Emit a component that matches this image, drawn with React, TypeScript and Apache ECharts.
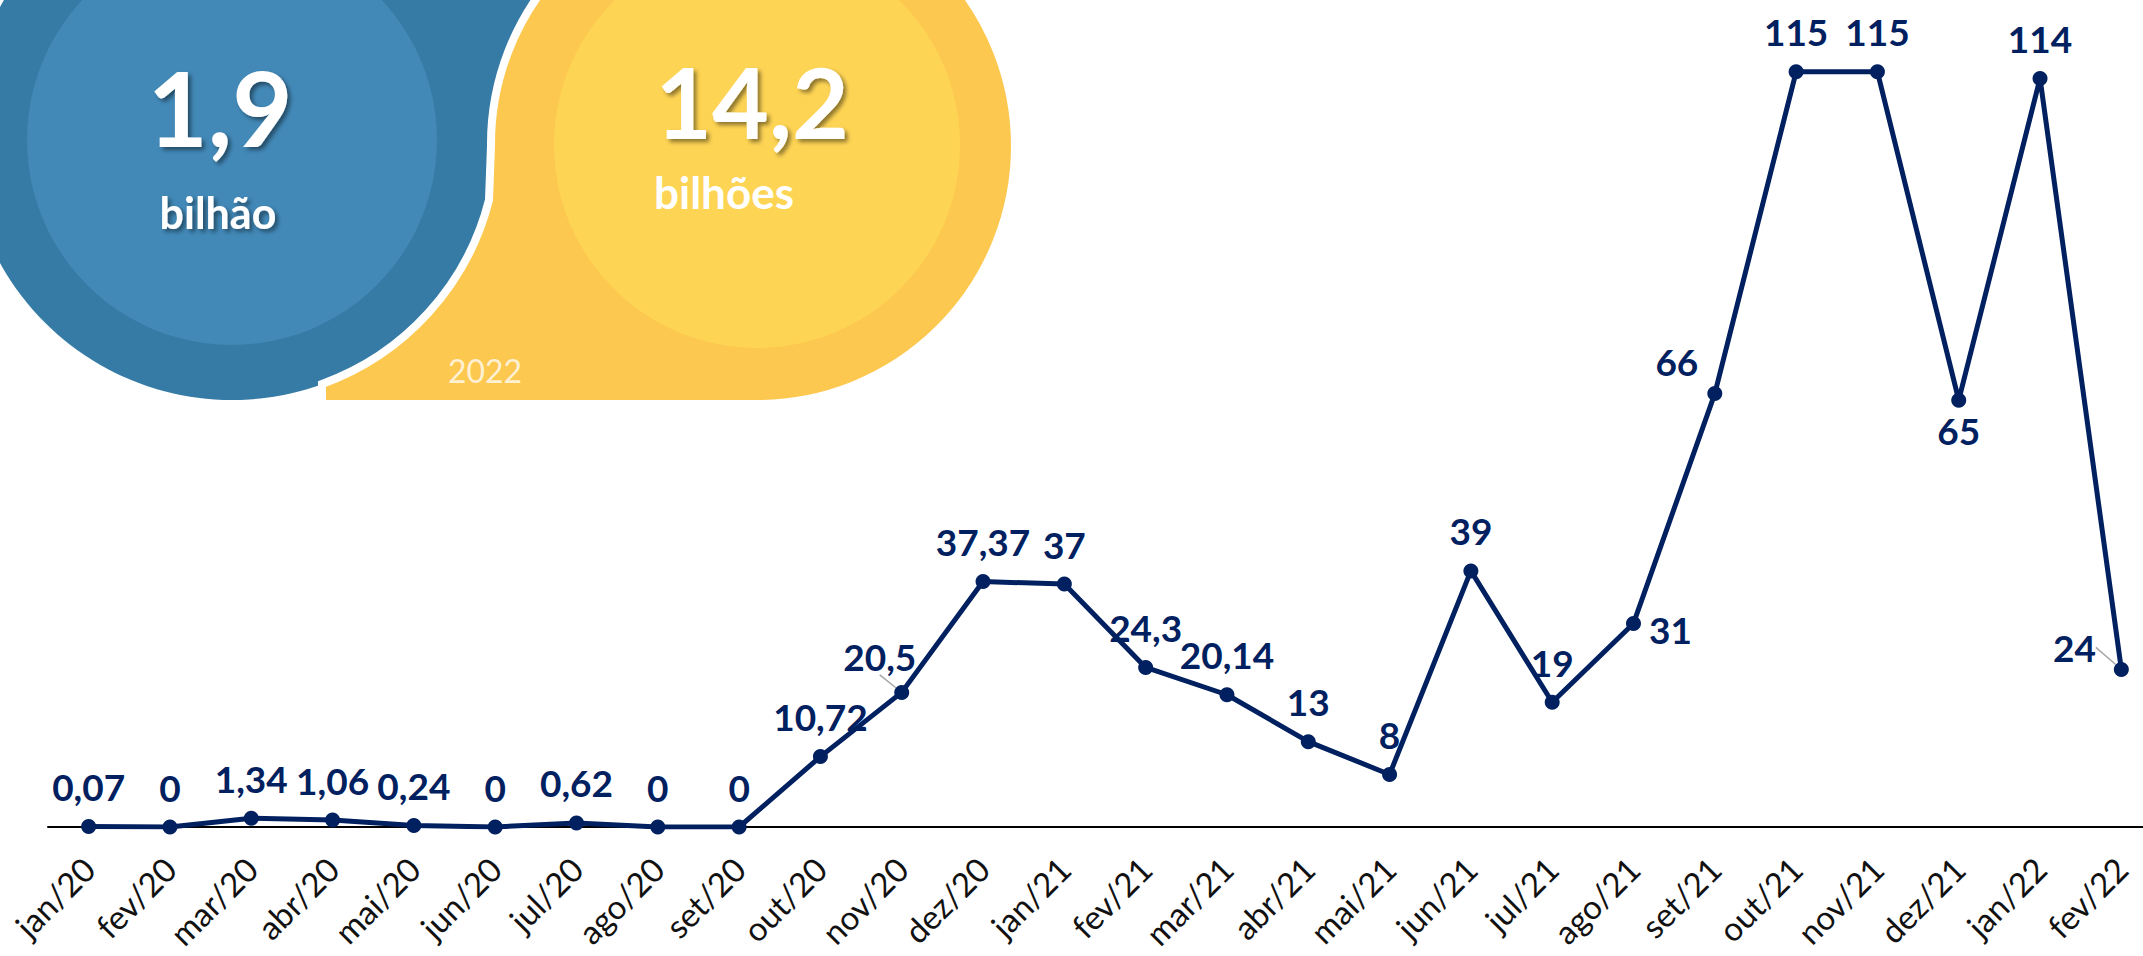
import React, { useEffect, useRef } from "react";
import * as echarts from "echarts";

const categories = [
  "jan/20", "fev/20", "mar/20", "abr/20", "mai/20", "jun/20", "jul/20", "ago/20", "set/20",
  "out/20", "nov/20", "dez/20", "jan/21", "fev/21", "mar/21", "abr/21", "mai/21", "jun/21",
  "jul/21", "ago/21", "set/21", "out/21", "nov/21", "dez/21", "jan/22", "fev/22",
];
const values = [
  0.07, 0, 1.34, 1.06, 0.24, 0, 0.62, 0, 0, 10.72, 20.5, 37.37, 37, 24.3, 20.14, 13, 8, 39,
  19, 31, 66, 115, 115, 65, 114, 24,
];
const bigNumbers = ["1,9", "14,2"];
const bigUnits = ["bilhão", "bilhões"];
const yearLabel = "2022";

const NAVY = "#002060";
const FONT = "Lato, 'Open Sans', 'Liberation Sans', sans-serif";

const YELLOW_SHAPE =
  "M 322 404 L 757 404 A 258 258 0 0 0 1015 146 A 258 258 0 0 0 757 -112 L 747 -112 " +
  "A 256 256 0 0 0 491 146 L 489 200 A 265 265 0 0 1 322 384 Z";

let registered = false;
function ensureShapes() {
  if (registered) return;
  echarts.graphic.registerShape("yellowBlob", echarts.graphic.extendPath(YELLOW_SHAPE, {}));
  registered = true;
}

export default function App() {
  const ref = useRef<HTMLDivElement>(null);
  useEffect(() => {
    if (!ref.current) return;
    ensureShapes();
    const chart = echarts.init(ref.current, null, { renderer: "svg" });
    const shadow = {
      textShadowColor: "rgba(0,0,0,0.45)",
      textShadowBlur: 4,
      textShadowOffsetX: 3,
      textShadowOffsetY: 3,
    };
    const data = values.map((v, i) => {
      const item: any = { value: v };
      if (i === 19) item.label = { position: "right", distance: 8 };
      if (i === 20) item.label = { position: "left", distance: 9 };
      if (i === 23) item.label = { position: "bottom", distance: 4 };
      if (i === 25) item.label = { position: "left", distance: 8 };
      if (i === 10 || i === 25)
        item.labelLine = { show: true, lineStyle: { color: "#A6A6A6", width: 1.5 } };
      return item;
    });
    chart.setOption({
      animation: false,
      backgroundColor: "#ffffff",
      graphic: [
        { type: "polygon", shape: { points: [[300, -10], [600, -10], [560, 200], [300, 200]] }, style: { fill: "#357BA6" }, z: 1 },
        { type: "circle", shape: { cx: 232, cy: 135, r: 265 }, style: { fill: "#357BA6" }, z: 2 },
        { type: "circle", shape: { cx: 232, cy: 140, r: 205 }, style: { fill: "#4289B8" }, z: 3 },
        { type: "yellowBlob", x: 0, y: 0, style: { fill: "#FCC84F", stroke: "#ffffff", lineWidth: 8 }, z: 4 },
        { type: "circle", shape: { cx: 757, cy: 145, r: 203 }, style: { fill: "#FED454" }, z: 5 },
        { type: "text", z: 10, style: { text: bigNumbers[0], x: 220, y: 106, textAlign: "center", textVerticalAlign: "middle", font: `bold 104px ${FONT}`, fill: "#ffffff", ...shadow } },
        { type: "text", z: 10, style: { text: bigUnits[0], x: 218, y: 212, textAlign: "center", textVerticalAlign: "middle", font: `bold 43px ${FONT}`, fill: "#ffffff", ...shadow } },
        { type: "text", z: 10, style: { text: bigNumbers[1], x: 752, y: 101, textAlign: "center", textVerticalAlign: "middle", font: `bold 98px ${FONT}`, fill: "#ffffff", ...shadow } },
        { type: "text", z: 10, style: { text: bigUnits[1], x: 654, y: 192, textAlign: "left", textVerticalAlign: "middle", font: `bold 44px ${FONT}`, fill: "#ffffff" } },
        { type: "text", z: 10, style: { text: yearLabel, x: 485, y: 370, textAlign: "center", textVerticalAlign: "middle", font: `32px ${FONT}`, fill: "rgba(255,255,255,0.75)" } },
      ],
      grid: { left: 48, top: 39, width: 2114, height: 788, containLabel: false, outerBoundsMode: "none" },
      xAxis: {
        type: "category",
        data: categories,
        boundaryGap: true,
        axisLine: { show: true, lineStyle: { color: "#000000", width: 2 } },
        axisTick: { show: false },
        axisLabel: {
          interval: 0,
          rotate: 45,
          margin: 36,
          fontSize: 33,
          color: "#111111",
          fontFamily: FONT,
        },
        splitLine: { show: false },
      },
      yAxis: { type: "value", min: 0, max: 120, show: false, splitLine: { show: false } },
      series: [
        {
          type: "line",
          data,
          symbol: "circle",
          symbolSize: 15,
          lineStyle: { color: NAVY, width: 5 },
          itemStyle: { color: NAVY },
          label: {
            show: true,
            position: "top",
            distance: 14,
            color: NAVY,
            fontFamily: FONT,
            fontWeight: "bold",
            fontSize: 37,
            formatter: (p: any) => String(p.value).replace(".", ","),
          },
          labelLayout: (p: any) => {
            if (p.dataIndex === 10) return { dx: -22, dy: 4 };
            if (p.dataIndex === 19) return { dx: 0, dy: 6 };
            if (p.dataIndex === 20) return { dx: 0, dy: -32 };
            if (p.dataIndex === 25) return { dx: -10, dy: -22 };
            return { dx: 0, dy: 0 };
          },
        },
      ],
    });
    return () => chart.dispose();
  }, []);
  return (
    <div
      ref={ref}
      style={{ position: "fixed", left: 0, top: 0, width: 2143, height: 956 }}
    />
  );
}
